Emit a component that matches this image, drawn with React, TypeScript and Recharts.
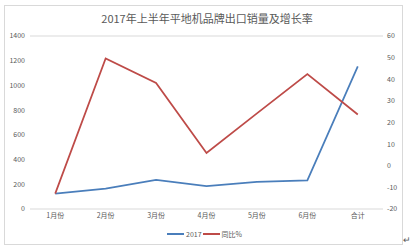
import React from 'react';
import { LineChart, Line, XAxis, YAxis, CartesianGrid } from 'recharts';

const categories = ['1月份', '2月份', '3月份', '4月份', '5月份', '6月份', '合计'];
const sales2017 = [125, 165, 235, 186, 219, 232, 1155];
const yoyPercent = [-12.9, 49.6, 38.3, 5.9, 24.2, 42.4, 23.7];
const leftTicks = [0, 200, 400, 600, 800, 1000, 1200, 1400];
const rightTicks = [-20, -10, 0, 10, 20, 30, 40, 50, 60];

const BLUE = '#4a7ebb';
const RED = '#be4b48';
const TEXT = '#595959';
const FONT = '"Noto Sans CJK SC", "Noto Sans", sans-serif';

const data = categories.map((c, i) => ({ name: c, s2017: sales2017[i], yoy: yoyPercent[i] }));

export default function App() {
  return (
    <div style={{ position: 'absolute', left: 0, top: 0, width: 414, height: 249, background: '#fff', fontFamily: FONT }}>
      <div style={{ position: 'absolute', left: 4, top: 5, width: 399, height: 240, border: '1px solid #d9d9d9', boxSizing: 'border-box' }} />
      <div style={{ position: 'absolute', left: 0, top: 11, width: 414, textAlign: 'center', fontSize: 11, color: TEXT, lineHeight: '14px' }}>
        2017年上半年平地机品牌出口销量及增长率
      </div>
      <div style={{ position: 'absolute', left: 0, top: 0 }}>
        <LineChart width={414} height={249} data={data} margin={{ top: 36, right: 0, bottom: 20, left: 0 }}>
          <CartesianGrid vertical={false} stroke="#d9d9d9" strokeWidth={1} />
          <XAxis
            dataKey="name"
            scale="band"
            axisLine={false}
            tickLine={false}
            tickSize={2}
            tickMargin={2}
            height={20}
            interval={0}
            tick={{ fontSize: 7, fill: TEXT, fontFamily: FONT }}
          />
          <YAxis
            yAxisId="left"
            orientation="left"
            domain={[0, 1400]}
            ticks={leftTicks}
            width={30}
            axisLine={false}
            tickLine={false}
            tickSize={3}
            tickMargin={2}
            interval={0}
            tick={{ fontSize: 7, fill: TEXT, fontFamily: FONT }}
          />
          <YAxis
            yAxisId="right"
            orientation="right"
            domain={[-20, 60]}
            ticks={rightTicks}
            width={31}
            axisLine={false}
            tickLine={false}
            tickSize={3}
            tickMargin={1}
            interval={0}
            tick={{ fontSize: 7, fill: TEXT, fontFamily: FONT, textAnchor: 'start' }}
          />
          <Line yAxisId="left" type="linear" dataKey="s2017" stroke={BLUE} strokeWidth={1.75} dot={false} isAnimationActive={false} />
          <Line yAxisId="right" type="linear" dataKey="yoy" stroke={RED} strokeWidth={1.75} dot={false} isAnimationActive={false} />
        </LineChart>
      </div>
      <div style={{ position: 'absolute', left: 167, top: 229, height: 10, display: 'flex', alignItems: 'center', fontSize: 7, color: TEXT }}>
        <span style={{ display: 'inline-block', width: 17, height: 2, background: BLUE }} />
        <span style={{ marginLeft: 2, marginRight: 1 }}>2017</span>
        <span style={{ display: 'inline-block', width: 17, height: 2, background: RED }} />
        <span style={{ marginLeft: 2 }}>同比%</span>
      </div>
      <div style={{ position: 'absolute', left: 403, top: 235, fontSize: 9, color: '#555', lineHeight: '10px' }}>↵</div>
    </div>
  );
}
